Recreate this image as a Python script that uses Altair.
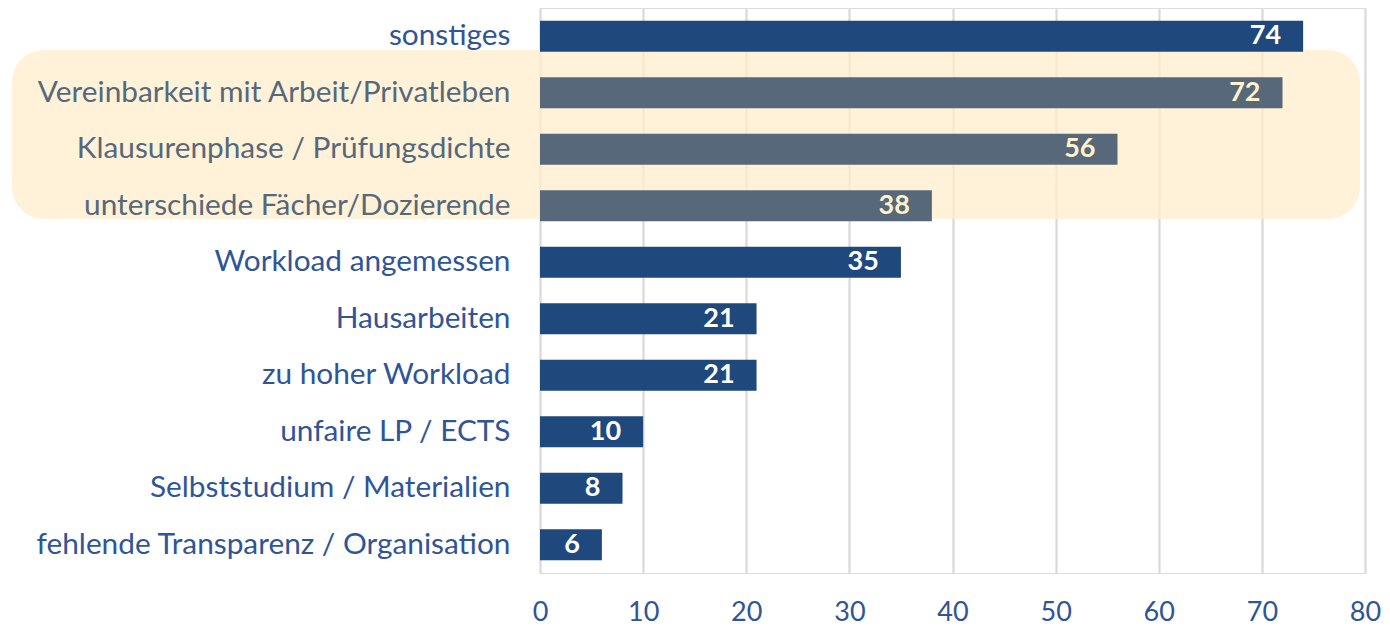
import altair as alt
import pandas as pd

categories = [
    "sonstiges",
    "Vereinbarkeit mit Arbeit/Privatleben",
    "Klausurenphase / Prüfungsdichte",
    "unterschiede Fächer/Dozierende",
    "Workload angemessen",
    "Hausarbeiten",
    "zu hoher Workload",
    "unfaire LP / ECTS",
    "Selbststudium / Materialien",
    "fehlende Transparenz / Organisation",
]
values = [74, 72, 56, 38, 35, 21, 21, 10, 8, 6]
highlighted = [False, True, True, True, False, False, False, False, False, False]
x_ticks = [0, 10, 20, 30, 40, 50, 60, 70, 80]

BLUE = "#1F497D"
GRAY = "#56687A"
LABEL_BLUE = "#2F5597"
FONT = "Lato"

df = pd.DataFrame({"cat": categories, "val": values, "hl": highlighted})
hl_list = [c for c, h in zip(categories, highlighted) if h]
hl_expr = "indexof([" + ",".join("'" + c + "'" for c in hl_list) + "], datum.value) >= 0"

y_enc = alt.Y(
    "cat:N",
    sort=categories,
    scale=alt.Scale(paddingInner=0.45, paddingOuter=0.225),
    axis=alt.Axis(
        title=None, domain=False, ticks=False, labelPadding=30,
        labelFont=FONT, labelFontSize=29.8, zindex=1,
        labelColor=alt.expr(hl_expr + " ? '" + GRAY + "' : '" + LABEL_BLUE + "'"),
        labelLimit=700,
    ),
)
x_enc = alt.X(
    "val:Q",
    scale=alt.Scale(domain=[0, 80], nice=False),
    axis=alt.Axis(
        title=None, values=x_ticks, domain=False, ticks=False, zindex=0,
        grid=True, gridColor="#D9D9D9", gridWidth=2.2, labelFlush=False,
        labelFont=FONT, labelFontSize=27, labelColor=LABEL_BLUE, labelPadding=26,
    ),
)

box = alt.Chart(pd.DataFrame({"a": [0]})).mark_rect(
    color="#FFEDCC", opacity=0.75, cornerRadius=32
).encode(
    x=alt.value(-528), x2=alt.value(820), y=alt.value(42), y2=alt.value(211)
)

bars = alt.Chart(df).mark_bar(strokeWidth=0).encode(
    y=y_enc,
    x=x_enc,
    color=alt.Color("hl:N", scale=alt.Scale(domain=[False, True], range=[BLUE, GRAY]), legend=None),
)

labels = alt.Chart(df).mark_text(
    align="right", baseline="middle", dx=-22, font=FONT, fontSize=27, fontWeight="bold"
).encode(
    y=alt.Y("cat:N", sort=categories),
    x="val:Q",
    text="val:Q",
    color=alt.Color("hl:N", scale=alt.Scale(domain=[False, True], range=["#FFFFFF", "#FFF2CC"]), legend=None),
)

chart = alt.layer(box, bars, labels).resolve_scale(color="independent").properties(
    width=825, height=565,
    autosize=alt.AutoSizeParams(type="none"),
    padding={"left": 540, "top": 8, "right": 25, "bottom": 56},
).configure_view(stroke=None).configure(background="white")

chart.save("out.html", embed_options={"renderer": "svg", "actions": False})
